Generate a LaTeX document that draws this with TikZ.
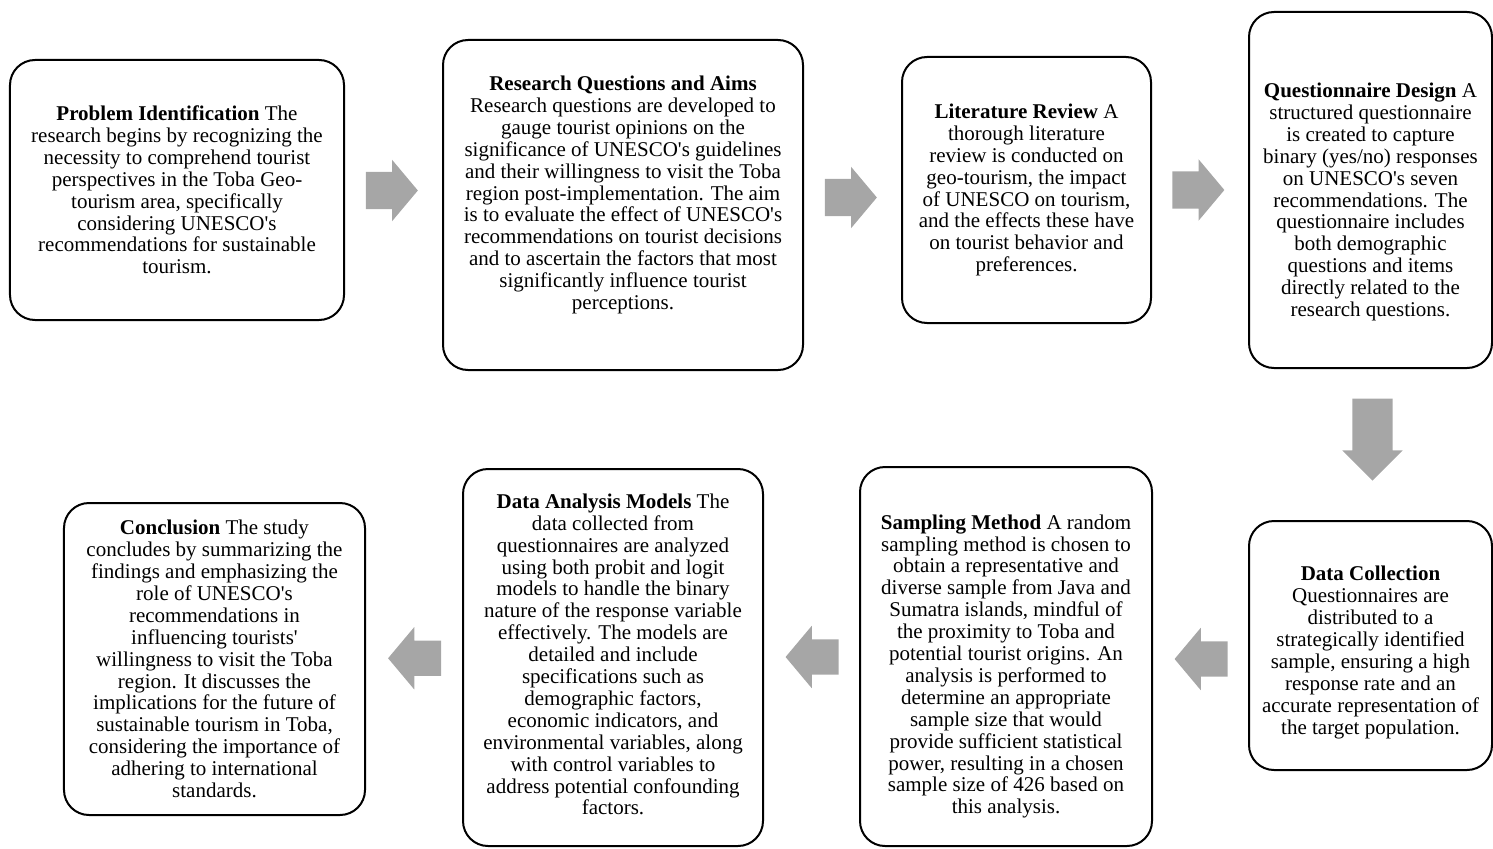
\documentclass[tikz,border=0pt]{standalone}
\usepackage{fontspec}
\setmainfont{Liberation Serif}[Ligatures=TeXOff]
\usetikzlibrary{
  calc,
  positioning,
  shapes.arrows
}
\definecolor{flowGray}{HTML}{A6A6A6}
\tikzset{
  stageBox/.style={
    draw=black,
    line width=2bp,
    rounded corners=25bp,
    inner sep=0pt
  },
  stageText/.style={
    align=center,
    inner sep=0pt,
    font=\fontsize{21bp}{21.9bp}\selectfont
  },
  flowArrow/.style={
    single arrow,
    fill=flowGray,
    draw=none,
    inner xsep=0pt,
    inner ysep=18.5bp,
    minimum width=61bp,
    minimum height=52bp,
    single arrow head extend=12bp,
    single arrow tip angle=100
  },
  flowRight/.style={flowArrow, xshift=-9.5bp},
  flowDown/.style={flowArrow, yshift=15bp, rotate=-90,
    inner ysep=20bp, minimum width=60bp, minimum height=82bp,
    single arrow head extend=10bp, single arrow tip angle=90},
  flowLeft/.style={flowArrow, xshift=8bp, rotate=180,
    inner ysep=17.5bp, minimum width=62bp, minimum height=53bp,
    single arrow head extend=13.5bp}
}

\begin{document}
\begin{tikzpicture}[x=1bp,y=-1bp]
  \useasboundingbox (0,0) rectangle (1493,848);

  % top row
  \node[stageBox, minimum width=334bp, minimum height=260bp] (prob) at (177,190) {};
  \node[stageText] (prob-t) at (prob.center)
    {\textbf{Problem Identification} The\\research begins by recognizing the\\necessity to comprehend tourist\\perspectives in the Toba Geo-\\tourism area, specifically\\considering UNESCO's\\recommendations for sustainable\\tourism.};
  \node[stageBox, minimum width=360bp, minimum height=330bp] (rqa) at (623,205) {};
  \node[stageText] (rqa-t) at ([yshift=10bp]rqa.center)
    {\textbf{Research Questions and Aims}\\Research questions are developed to\\gauge tourist opinions on the\\significance of UNESCO's guidelines\\and their willingness to visit the Toba\\region post-implementation. The aim\\is to evaluate the effect of UNESCO's\\recommendations on tourist decisions\\and to ascertain the factors that most\\significantly influence tourist\\perceptions.};
  \node[stageBox, minimum width=249bp, minimum height=266bp] (litrev) at (1026.5,190) {};
  \node[stageText] (litrev-t) at (litrev.center)
    {\textbf{Literature Review} A\\thorough literature\\review is conducted on\\geo-tourism, the impact\\of UNESCO on tourism,\\and the effects these have\\on tourist behavior and\\preferences.};
  \node[stageBox, minimum width=243bp, minimum height=356bp] (qdesign) at (1370.5,190) {};
  \node[stageText] (qdesign-t) at ([yshift=-12bp]qdesign.center)
    {\textbf{Questionnaire Design} A\\structured questionnaire\\is created to capture\\binary (yes/no) responses\\on UNESCO's seven\\recommendations. The\\questionnaire includes\\both demographic\\questions and items\\directly related to the\\research questions.};

  % bottom row
  \node[stageBox, minimum width=243bp, minimum height=249bp] (dcollect) at (1370.5,645.5) {};
  \node[stageText] (dcollect-t) at ([yshift=-7bp]dcollect.center)
    {\textbf{Data Collection}\\Questionnaires are\\distributed to a\\strategically identified\\sample, ensuring a high\\response rate and an\\accurate representation of\\the target population.};
  \node[stageBox, minimum width=292bp, minimum height=379bp] (sampling) at (1006,656.5) {};
  \node[stageText] (sampling-t) at ([yshift=-10bp]sampling.center)
    {\textbf{Sampling Method} A random\\sampling method is chosen to\\obtain a representative and\\diverse sample from Java and\\Sumatra islands, mindful of\\the proximity to Toba and\\potential tourist origins. An\\analysis is performed to\\determine an appropriate\\sample size that would\\provide sufficient statistical\\power, resulting in a chosen\\sample size of 426 based on\\this analysis.};
  \node[stageBox, minimum width=300bp, minimum height=377bp] (analysis) at (613,657.5) {};
  \node[stageText] (analysis-t) at ([yshift=3bp]analysis.center)
    {\textbf{Data Analysis Models} The\\data collected from\\questionnaires are analyzed\\using both probit and logit\\models to handle the binary\\nature of the response variable\\effectively. The models are\\detailed and include\\specifications such as\\demographic factors,\\economic indicators, and\\environmental variables, along\\with control variables to\\address potential confounding\\factors.};
  \node[stageBox, minimum width=301bp, minimum height=312bp] (concl) at (214.5,659) {};
  \node[stageText] (concl-t) at (concl.center)
    {\textbf{Conclusion} The study\\concludes by summarizing the\\findings and emphasizing the\\role of UNESCO's\\recommendations in\\influencing tourists'\\willingness to visit the Toba\\region. It discusses the\\implications for the future of\\sustainable tourism in Toba,\\considering the importance of\\adhering to international\\standards.};

  % block arrows
  \node[flowRight, yshift=7bp] (a1) at ($(prob.east)!0.5!(rqa.west)$) {};
  \node[flowRight] (a2) at ($(rqa.east)!0.5!(litrev.west)$) {};
  \node[flowRight] (a3) at ($(litrev.east)!0.5!(qdesign.west)$) {};
  \node[xshift=2bp, flowDown] (a4) at ($(qdesign.south)!0.5!(dcollect.north)$) {};
  \node[yshift=-8bp, flowLeft] (a5) at ($(dcollect.west)!0.5!(sampling.east)$) {};
  \node[flowLeft] (a6) at ($(sampling.west)!0.5!(analysis.east)$) {};
  \node[flowLeft] (a7) at ($(analysis.west)!0.5!(concl.east)$) {};
\end{tikzpicture}
\end{document}
